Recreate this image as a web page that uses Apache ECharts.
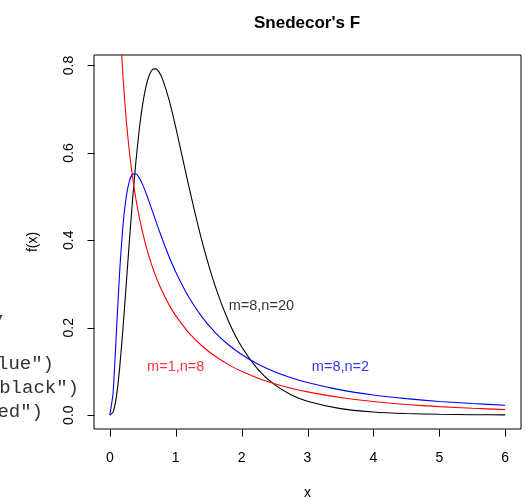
<!DOCTYPE html>
<html>
<head>
<meta charset="utf-8">
<script src="https://cdn.jsdelivr.net/npm/echarts@6/dist/echarts.min.js"></script>
<style>html,body{margin:0;padding:0;background:#fff}#c{width:526px;height:498px}</style>
</head>
<body>
<div id="c"></div>
<script>
// x positions where densities were read
var xs = [0,0.05,0.1,0.15,0.2,0.25,0.3,0.35,0.4,0.45,0.5,0.55,0.6,0.65,0.7,0.75,0.8,0.9,1,1.2,1.4,1.6,1.8,2,2.25,2.5,2.75,3,3.5,4,4.5,5,5.5,6];
// m=8, n=20 (black)
var fBlack = [0,0.0069,0.0423,0.1093,0.1994,0.3012,0.4045,0.5013,0.5866,0.6575,0.7128,0.7528,0.7781,0.7909,0.7923,0.7843,0.7688,0.7208,0.6589,0.5230,0.3974,0.2945,0.2153,0.1563,0.1044,0.0698,0.0469,0.0318,0.0149,0.0073,0.0037,0.0019,0.0010,0.0006];
// m=8, n=2 (blue)
var fBlue = [0,0.0514,0.1904,0.3296,0.4335,0.5,0.5365,0.5514,0.5516,0.5422,0.5268,0.5077,0.4868,0.4651,0.4433,0.4219,0.4012,0.3624,0.3277,0.2696,0.2244,0.1890,0.1611,0.1387,0.1166,0.0994,0.0856,0.0745,0.0578,0.0462,0.0377,0.0313,0.0265,0.0227];
// m=1, n=8 (red)
var fRed = [null,1.6816,1.1563,0.9184,0.7738,0.6734,0.5982,0.5391,0.4909,0.4506,0.4163,0.3866,0.3605,0.3375,0.3169,0.2983,0.2816,0.2523,0.2276,0.1882,0.1582,0.1346,0.1156,0.1002,0.0845,0.0719,0.0617,0.0533,0.0404,0.0312,0.0245,0.0195,0.0157,0.0127];

var xTicks = [0,1,2,3,4,5,6];
var yTicks = [0,0.2,0.4,0.6,0.8];

var curveLabels = [
  {text:'m=8,n=20', x:2.3, y:0.25, color:'#000000'},
  {text:'m=1,n=8', x:1.0, y:0.11, color:'#ff0000'},
  {text:'m=8,n=2', x:3.5, y:0.11, color:'#0000ff'}
];
var codeLines = ['col="blue")', 'col="black")', 'col="red")'];

var X_MIN = -0.24, X_MAX = 6.24, Y_MIN = -0.0317, Y_MAX = 0.824;

function pairs(vals){ return xs.map(function(x,i){ return [x, vals[i]]; }); }

var FONT = '"Liberation Sans", Arial, Helvetica, sans-serif';
var MONO = '"Liberation Mono", "Courier New", monospace';

var chart = echarts.init(document.getElementById('c'), null, {renderer:'canvas'});

var series = [
  {type:'line', data:pairs(fBlack), showSymbol:false, smooth:0.2, clip:true, lineStyle:{color:'#000000', width:1.1}, itemStyle:{color:'#000000'}, silent:true},
  {type:'line', data:pairs(fBlue), showSymbol:false, smooth:0.2, clip:true, lineStyle:{color:'#0000ff', width:1.1}, itemStyle:{color:'#0000ff'}, silent:true},
  {type:'line', data:pairs(fRed), showSymbol:false, smooth:0.2, clip:true, connectNulls:false, lineStyle:{color:'#ff0000', width:1.1}, itemStyle:{color:'#ff0000'}, silent:true}
];
curveLabels.forEach(function(l){
  series.push({type:'scatter', symbolSize:0, silent:true, data:[[l.x,l.y]],
    label:{show:true, position:'inside', formatter:l.text, color:l.color, fontFamily:FONT, fontSize:14.5, align:'center', verticalAlign:'middle'}});
});

function codeGraphics(){
  var g = [];
  var codeRightEdges = [54, 79, 43];
  var codeY = [362, 386, 410];
  codeLines.forEach(function(t,i){
    g.push({type:'text', right: 526-codeRightEdges[i], top: codeY[i]-8, silent:true,
      style:{text:t, font:'19px ' + MONO, fill:'#333333'}});
  });
  g.push({type:'text', left:-4, top:303, silent:true, style:{text:',', font:'19px ' + MONO, fill:'#333333'}});
  return g;
}

chart.setOption({
  animation:false,
  backgroundColor:'#ffffff',
  title:{text:"Snedecor's F", left:249, top:10,
    textStyle:{fontFamily:FONT, fontWeight:'bold', fontSize:17, color:'#000'}},
  grid:{left:94, right:5, top:55, bottom:69, show:true, borderColor:'#000', borderWidth:1, backgroundColor:'transparent', containLabel:false, outerBoundsMode:'none'},
  xAxis:[{type:'value', min:X_MIN, max:X_MAX, name:'x', nameLocation:'middle', nameGap:57, nameMoveOverlap:false,
    nameTextStyle:{fontFamily:FONT, fontSize:14, color:'#000'},
    axisLine:{show:false, onZero:true, onZeroAxisIndex:1},
    axisTick:{show:false},
    axisLabel:{customValues:xTicks, margin:22, fontFamily:FONT, fontSize:14, color:'#000', formatter:function(v){return String(v);}},
    splitLine:{show:false}},
    {type:'value', min:1, max:2, show:false}],
  yAxis:[{type:'value', min:Y_MIN, max:Y_MAX, name:'f(x)', nameLocation:'middle', nameGap:54, nameRotate:90, nameMoveOverlap:false,
    nameTextStyle:{fontFamily:FONT, fontSize:14, color:'#000'},
    axisLine:{show:false, onZero:true, onZeroAxisIndex:1},
    axisTick:{show:false},
    axisLabel:{customValues:yTicks, rotate:90, margin:18, fontFamily:FONT, fontSize:14, color:'#000', formatter:function(v){return v.toFixed(1);}},
    splitLine:{show:false}},
    {type:'value', min:1, max:2, show:false}],
  series:series
});

// Tick marks placed through the chart's own scales (outside the plotting frame, R style)
var TICK_LEN = 7;
var g = codeGraphics();
var yBottom = chart.convertToPixel({yAxisIndex:0}, Y_MIN);
var xLeft = chart.convertToPixel({xAxisIndex:0}, X_MIN);
xTicks.forEach(function(v){
  var px = Math.round(chart.convertToPixel({xAxisIndex:0}, v)) + 0.5;
  var py = Math.round(yBottom) + 0.5;
  g.push({type:'line', silent:true, z:100, shape:{x1:px, y1:py, x2:px, y2:py + TICK_LEN}, style:{stroke:'#000', lineWidth:1}});
});
yTicks.forEach(function(v){
  var py = Math.round(chart.convertToPixel({yAxisIndex:0}, v)) + 0.5;
  var px = Math.round(xLeft) + 0.5;
  g.push({type:'line', silent:true, z:100, shape:{x1:px, y1:py, x2:px - TICK_LEN, y2:py}, style:{stroke:'#000', lineWidth:1}});
});
chart.setOption({graphic:g});
</script>
</body>
</html>
